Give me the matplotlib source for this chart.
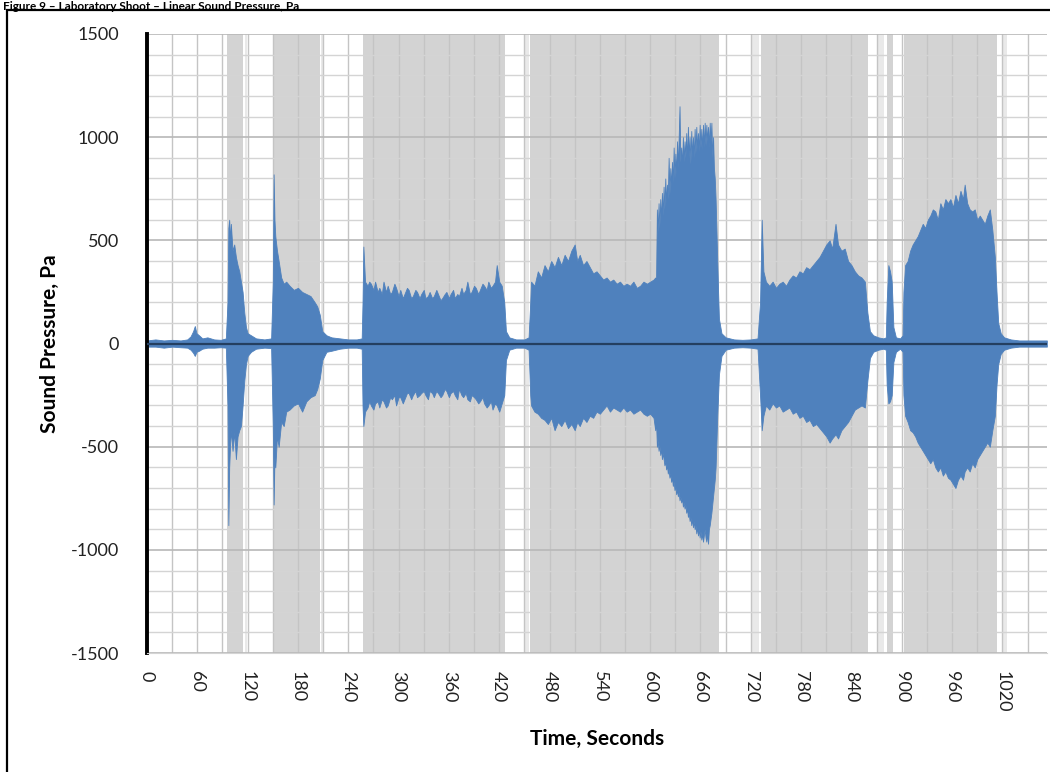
import matplotlib.pyplot as plt
import numpy as np
from matplotlib.patches import Rectangle
from matplotlib.ticker import MultipleLocator

plt.rcParams['font.family'] = ['Lato', 'DejaVu Sans']

# envelope of the recorded sound pressure, rows of (time s, upper Pa, lower Pa)
quiet_start = [(0, 15, -15), (10, 20, -15), (20, 15, -20), (30, 18, -15), (40, 15, -18), (48, 20, -20),
               (52, 35, -30), (55, 60, -45), (57, 85, -60), (59, 50, -40), (62, 40, -35), (66, 25, -25),
               (72, 30, -20), (80, 20, -20), (88, 18, -18), (94, 25, -20)]
burst_1 = [(96, 200, -300), (97, 560, -880), (98, 600, -600), (99, 500, -500), (100, 580, -420),
           (102, 450, -520), (104, 480, -430), (106, 420, -560), (108, 380, -450), (110, 350, -420),
           (112, 300, -400), (114, 250, -300), (116, 150, -180), (118, 80, -100), (120, 50, -60),
           (124, 40, -40), (130, 25, -25), (140, 20, -20), (148, 25, -22)]
burst_2 = [(150, 300, -400), (151, 820, -780), (152, 600, -550), (153, 520, -600), (155, 450, -450),
           (157, 400, -500), (160, 320, -380), (163, 290, -400), (166, 300, -330), (170, 280, -320),
           (175, 260, -300), (180, 270, -290), (185, 250, -330), (190, 240, -280), (195, 230, -260),
           (200, 200, -250), (203, 180, -220), (206, 140, -170), (209, 60, -80), (214, 40, -40),
           (220, 30, -35), (230, 25, -25), (240, 20, -20), (250, 20, -20), (256, 25, -25)]
burst_3 = [(257, 200, -300), (258, 470, -400), (260, 300, -330), (263, 280, -310), (265, 300, -280),
           (267, 290, -300), (270, 260, -320), (272, 300, -290), (275, 250, -280), (277, 270, -310),
           (280, 240, -270), (282, 300, -280), (285, 250, -310), (287, 280, -300), (290, 240, -260),
           (292, 250, -270), (295, 290, -250), (297, 270, -300), (300, 230, -260), (302, 260, -260),
           (305, 220, -290), (307, 240, -270), (310, 270, -240), (312, 260, -240), (315, 220, -270),
           (317, 230, -250), (320, 260, -230), (322, 250, -260), (325, 220, -250), (327, 240, -240),
           (330, 260, -230), (332, 220, -250), (335, 230, -270), (337, 250, -230), (340, 220, -240),
           (342, 230, -260), (345, 260, -230), (347, 240, -240), (350, 210, -260), (352, 220, -250),
           (355, 240, -220), (357, 250, -230), (360, 220, -260), (362, 240, -240), (365, 260, -230),
           (367, 220, -250), (370, 240, -270), (372, 230, -220), (375, 270, -250), (377, 240, -260),
           (380, 260, -240), (382, 300, -270), (385, 240, -280), (387, 250, -250), (390, 280, -260),
           (392, 270, -270), (395, 240, -290), (397, 260, -280), (400, 290, -260), (402, 280, -290),
           (405, 260, -310), (407, 300, -300), (410, 270, -280), (412, 280, -320), (415, 300, -290),
           (417, 380, -300), (420, 300, -330), (423, 280, -290), (426, 200, -250), (428, 60, -80),
           (432, 30, -30), (440, 20, -20), (450, 20, -20), (455, 30, -30)]
burst_4 = [(457, 200, -250), (458, 300, -300), (462, 280, -330), (466, 350, -340), (470, 320, -360),
           (474, 380, -370), (478, 350, -390), (482, 400, -360), (486, 370, -420), (490, 420, -380),
           (494, 380, -400), (498, 430, -370), (502, 400, -410), (506, 450, -390), (510, 480, -420),
           (513, 400, -380), (516, 430, -400), (520, 380, -360), (524, 400, -380), (528, 370, -350),
           (532, 340, -360), (536, 350, -330), (540, 330, -340), (544, 310, -320), (548, 320, -300),
           (552, 300, -330), (556, 310, -310), (560, 290, -320), (564, 300, -330), (568, 280, -310),
           (572, 290, -330), (576, 280, -320), (580, 300, -340), (584, 270, -330), (588, 280, -320),
           (592, 300, -340), (596, 290, -350), (600, 300, -340), (604, 310, -360), (606, 320, -420),
           (607, 300, -380), (608, 650, -500), (609, 540, -470), (610, 680, -520), (611, 560, -490),
           (612, 700, -540), (613, 600, -510), (614, 730, -560), (615, 620, -530), (616, 760, -560),
           (617, 650, -590), (618, 800, -570), (619, 680, -610), (620, 770, -590), (621, 700, -630),
           (622, 900, -610), (623, 720, -650), (624, 850, -630), (625, 760, -670), (626, 880, -650),
           (627, 780, -690), (628, 950, -670), (629, 800, -710), (630, 920, -690), (631, 820, -730),
           (632, 980, -710), (633, 850, -740), (634, 1000, -720), (635, 1150, -760), (636, 880, -740),
           (637, 950, -770), (638, 860, -750), (639, 1000, -790), (640, 880, -770), (641, 980, -800),
           (642, 900, -780), (643, 1020, -820), (644, 880, -800), (645, 1050, -840), (646, 900, -820),
           (647, 1000, -860), (648, 870, -840), (649, 1030, -880), (650, 900, -850), (651, 1000, -890),
           (652, 900, -860), (653, 1040, -900), (654, 920, -880), (655, 1050, -920), (656, 940, -890),
           (657, 1020, -930), (658, 930, -900), (659, 1060, -940), (660, 950, -910), (661, 1040, -950),
           (662, 940, -920), (663, 1060, -960), (664, 950, -930), (665, 1070, -900), (666, 960, -940),
           (667, 1060, -960), (668, 980, -920), (669, 1050, -970), (670, 950, -900), (671, 1070, -880),
           (672, 980, -850), (673, 1070, -820), (674, 900, -780), (675, 1000, -740), (676, 850, -700),
           (677, 800, -660), (678, 700, -600), (679, 550, -480), (680, 400, -350), (681, 250, -250),
           (682, 120, -150), (685, 50, -60), (690, 30, -30), (700, 20, -20), (710, 18, -18),
           (720, 20, -20), (728, 25, -25)]
burst_5 = [(731, 200, -250), (733, 600, -420), (735, 350, -350), (738, 300, -300), (742, 280, -320),
           (746, 300, -290), (750, 270, -310), (754, 290, -300), (758, 300, -330), (762, 280, -320),
           (766, 310, -310), (770, 330, -340), (774, 320, -330), (778, 350, -360), (782, 340, -350),
           (786, 370, -380), (790, 360, -370), (794, 380, -400), (798, 400, -390), (802, 420, -410),
           (806, 450, -430), (810, 480, -450), (814, 500, -480), (817, 460, -460), (821, 580, -440),
           (824, 480, -460), (828, 450, -420), (832, 460, -400), (836, 400, -380), (840, 380, -350),
           (844, 350, -320), (848, 330, -310), (852, 320, -300), (856, 300, -310), (859, 150, -180),
           (862, 60, -70), (866, 40, -40), (872, 30, -30), (878, 25, -25), (881, 30, -30)]
burst_small = [(882, 200, -200), (884, 380, -290), (886, 350, -280), (888, 300, -250), (890, 80, -90),
               (893, 30, -40), (898, 25, -25), (901, 40, -40)]
burst_6 = [(902, 250, -250), (904, 380, -350), (907, 400, -380), (910, 450, -420), (913, 480, -430),
           (916, 500, -450), (919, 520, -480), (922, 550, -500), (925, 580, -520), (928, 560, -540),
           (931, 600, -560), (934, 620, -580), (937, 650, -560), (940, 640, -600), (943, 600, -620),
           (946, 680, -600), (949, 650, -640), (952, 700, -620), (955, 680, -650), (958, 700, -660),
           (961, 660, -680), (964, 720, -700), (967, 680, -660), (970, 740, -640), (973, 700, -660),
           (975, 770, -620), (978, 680, -600), (981, 650, -620), (984, 640, -580), (987, 650, -600),
           (990, 600, -560), (993, 620, -540), (996, 600, -520), (999, 580, -500), (1002, 620, -480),
           (1005, 650, -500), (1008, 550, -420), (1011, 420, -350), (1013, 250, -200), (1015, 100, -100),
           (1018, 50, -50), (1022, 30, -30), (1030, 20, -20), (1040, 15, -15), (1050, 15, -15),
           (1060, 15, -15), (1073, 15, -15)]

# shaded firing periods (start s, end s) and the faint strips next to them
bands = [(95.4, 114.4), (150.2, 206.2), (257.4, 426.7), (456.5, 681.8),
         (731.8, 859.4), (882.5, 889.6), (902.3, 1013.0)]
strips = [(117.0, 119.5), (208.0, 210.0), (450.0, 456.0), (690.0, 692.0),
          (722.0, 730.0), (871.0, 879.0), (1020.0, 1025.0)]

x_ticks = list(range(0, 1021, 60))
y_ticks = [-1500, -1000, -500, 0, 500, 1000, 1500]

env = np.array(quiet_start + burst_1 + burst_2 + burst_3 + burst_4 + burst_5 + burst_small + burst_6)
t, upper, lower = env[:, 0], env[:, 1], env[:, 2]

fig = plt.figure(figsize=(10.5, 7.72), dpi=100)
ax = fig.add_axes([0.140, 0.154, 0.857, 0.802])

for a, b in bands:
    ax.axvspan(a, b, color='#d3d3d3', lw=0, zorder=0.1)
for a, b in strips:
    ax.axvspan(a, b, color='#e9e9e9', lw=0, zorder=0.1)

ax.fill_between(t, lower, upper, color='#4f81bd', lw=0.6, edgecolor='#4f81bd', zorder=2)
ax.axhline(0, color='#243f60', lw=1.6, zorder=3)

ax.set_xlim(0, 1073)
ax.set_ylim(-1500, 1500)
ax.set_xticks(x_ticks)
ax.set_xticklabels([str(v) for v in x_ticks], rotation=270, fontsize=13, color='#222222')
ax.set_yticks(y_ticks)
ax.set_yticklabels([str(v) for v in y_ticks], fontsize=13, color='#222222')
ax.xaxis.set_minor_locator(MultipleLocator(30))
ax.yaxis.set_minor_locator(MultipleLocator(100))
ax.tick_params(which='both', length=0)
ax.tick_params(axis='x', pad=13)
ax.tick_params(axis='y', pad=20)

ax.set_axisbelow(True)
ax.grid(which='major', axis='y', color='#b8b8b8', lw=1.2)
ax.grid(which='minor', axis='y', color='#d4d4d4', lw=1)
ax.grid(which='both', axis='x', color='#c4c4c4', lw=1)

for s in ['top', 'right']:
    ax.spines[s].set_visible(False)
ax.spines['bottom'].set_color('#d4d4d4')
ax.spines['left'].set_color('black')
ax.spines['left'].set_linewidth(2.8)

ax.set_xlabel('Time, Seconds', fontsize=15, fontweight='bold', labelpad=12)
ax.set_ylabel('Sound Pressure, Pa', fontsize=15, fontweight='bold', labelpad=8)

# frame of the report figure and its title above it
fig.patches.append(Rectangle((7 / 1050, -0.05), 1.1, 1.05 - 10 / 772, transform=fig.transFigure,
                             fill=False, edgecolor='black', lw=1.6))
fig.text(0.003, 0.999, 'Figure 9 \u2013 Laboratory Shoot \u2013 Linear Sound Pressure, Pa',
         fontsize=8.5, fontweight='bold', va='top', ha='left')

fig.savefig('out.png', dpi=100)
